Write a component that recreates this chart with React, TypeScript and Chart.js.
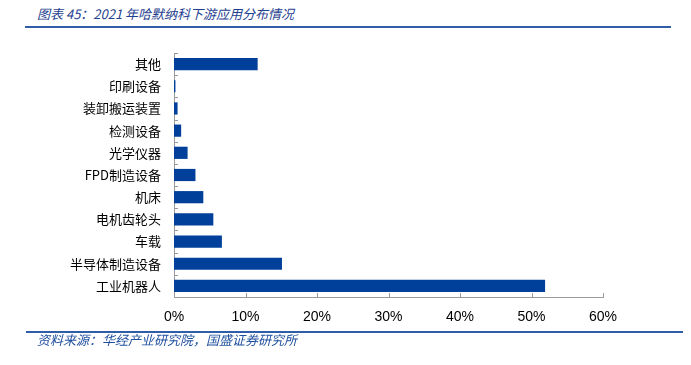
import React, { useEffect, useRef } from "react";
import { Chart, registerables } from "chart.js";

Chart.register(...registerables);

const categories = [
  "其他",
  "印刷设备",
  "装卸搬运装置",
  "检测设备",
  "光学仪器",
  "FPD制造设备",
  "机床",
  "电机齿轮头",
  "车载",
  "半导体制造设备",
  "工业机器人",
];
const shares = [11.7, 0.2, 0.5, 1.0, 1.9, 3.0, 4.1, 5.5, 6.7, 15.1, 51.9];
const xTicks = [0, 10, 20, 30, 40, 50, 60];

const titleText = "图表 45：2021 年哈默纳科下游应用分布情况";
const sourceText = "资料来源：华经产业研究院，国盛证券研究所";

const CJK = '"Noto Sans CJK SC", "DejaVu Sans", sans-serif';

const innerTicks = {
  id: "innerTicks",
  afterDraw(chart: any) {
    const ctx = chart.ctx;
    const { left, right, top, bottom } = chart.chartArea;
    const n = categories.length;
    ctx.save();
    ctx.strokeStyle = "#9a9a9a";
    ctx.lineWidth = 1;
    ctx.beginPath();
    for (let i = 0; i <= n; i++) {
      const y = Math.round(top + (i * (bottom - top)) / n) + 0.5;
      ctx.moveTo(left, y);
      ctx.lineTo(left + 4, y);
    }
    const xs = chart.scales.x;
    for (const v of xTicks) {
      const x = Math.round(xs.getPixelForValue(v)) + 0.5;
      ctx.moveTo(x, bottom);
      ctx.lineTo(x, bottom - 4);
    }
    ctx.stroke();
    ctx.restore();
  },
};

export default function App() {
  const ref = useRef<HTMLCanvasElement>(null);
  useEffect(() => {
    document.body.style.margin = "0";
    const chart = new Chart(ref.current as HTMLCanvasElement, {
      type: "bar",
      data: {
        labels: categories,
        datasets: [
          {
            data: shares,
            backgroundColor: "#00409a",
            borderWidth: 0,
            categoryPercentage: 1,
            barPercentage: 0.55,
          },
        ],
      },
      options: {
        indexAxis: "y",
        animation: false,
        responsive: false,
        devicePixelRatio: 1,
        layout: { padding: { left: 0, top: 53, right: 88, bottom: 38 } },
        plugins: { legend: { display: false }, tooltip: { enabled: false } },
        scales: {
          x: {
            min: 0,
            max: 60,
            afterBuildTicks: (s: any) => {
              s.ticks = xTicks.map((v) => ({ value: v }));
            },
            afterFit: (s: any) => {
              s.height = 30;
            },
            grid: { display: false, drawTicks: false },
            border: { display: true, color: "#9a9a9a", width: 1 },
            ticks: {
              padding: 12,
              color: "#000",
              font: { family: '"Liberation Sans", Arial, sans-serif', size: 14 },
              callback: (v: any) => v + "%",
            },
          },
          y: {
            afterFit: (s: any) => {
              s.width = 174;
            },
            grid: { display: false, drawTicks: false },
            border: { display: true, color: "#9a9a9a", width: 1 },
            ticks: {
              padding: 13,
              color: "#000",
              font: { family: CJK, size: 13 },
            },
          },
        },
      },
      plugins: [innerTicks],
    });
    return () => chart.destroy();
  }, []);

  return (
    <div style={{ position: "relative", width: 691, height: 365, background: "#fff" }}>
      <div
        style={{
          position: "absolute",
          left: 37,
          top: 4,
          fontFamily: CJK,
          fontStyle: "italic",
          fontSize: 13,
          lineHeight: "20px",
          color: "#1f3f8f",
          whiteSpace: "nowrap",
        }}
      >
        {titleText}
      </div>
      <div style={{ position: "absolute", left: 25, top: 26, width: 646, height: 2, background: "#2f5da8" }} />
      <canvas ref={ref} width={691} height={365} style={{ position: "absolute", left: 0, top: 0 }} />
      <div style={{ position: "absolute", left: 26, top: 331, width: 657, height: 2, background: "#2f5da8" }} />
      <div
        style={{
          position: "absolute",
          left: 37,
          top: 330,
          fontFamily: CJK,
          fontStyle: "italic",
          fontSize: 13,
          lineHeight: "20px",
          color: "#1f4f9f",
          whiteSpace: "nowrap",
        }}
      >
        {sourceText}
      </div>
    </div>
  );
}
